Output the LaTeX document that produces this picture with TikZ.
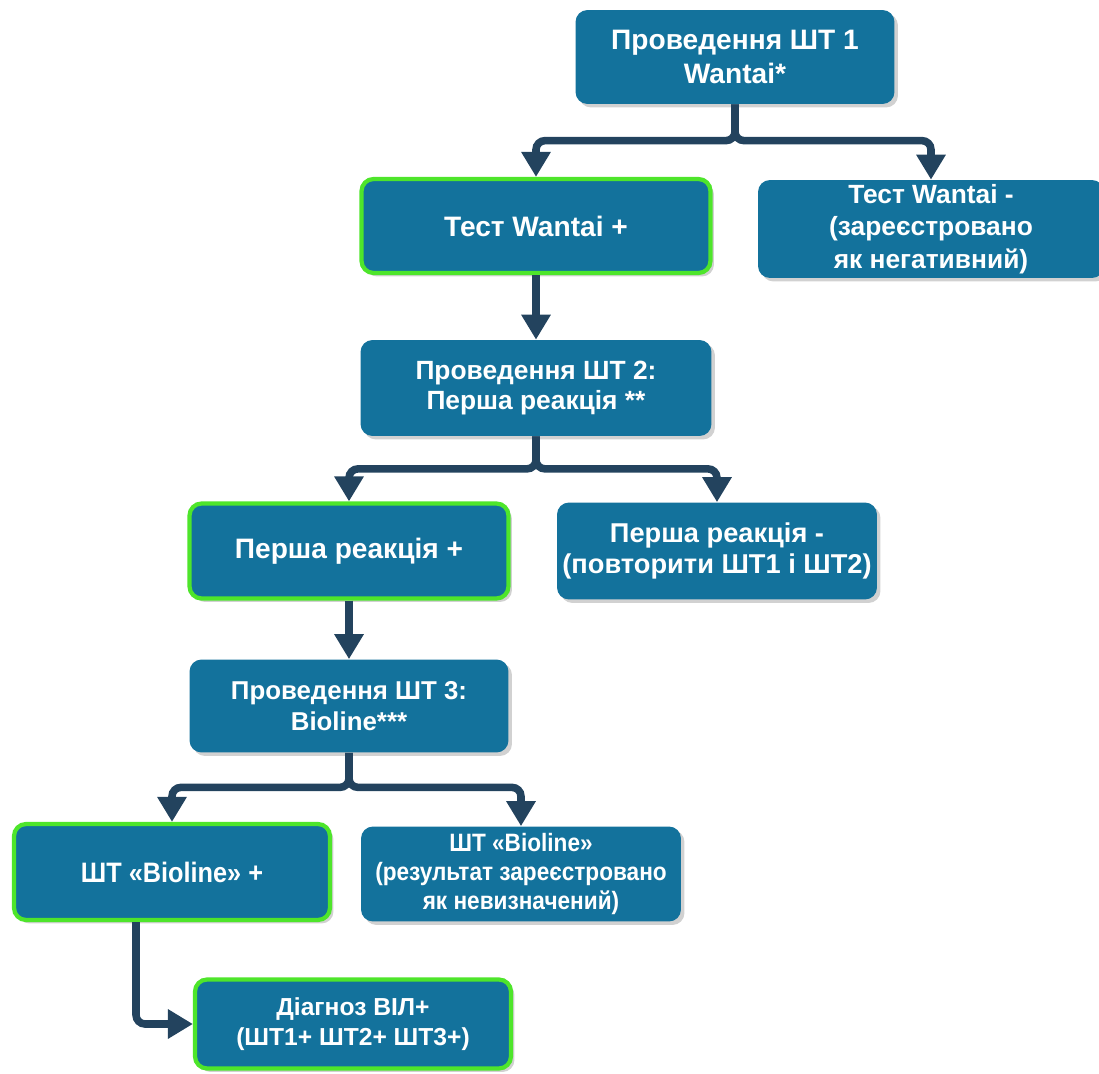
\documentclass[tikz,border=0pt]{standalone}
\usepackage{fontspec}
\setmainfont{Liberation Sans}
\newfontfamily\narrowfont[FakeStretch=0.9]{Liberation Sans}
\usetikzlibrary{arrows.meta,shadows,calc}
\definecolor{BoxFill}{HTML}{13729C}
\definecolor{LinkLine}{HTML}{23435E}
\definecolor{PosEdge}{HTML}{4EE52B}

\begin{document}
\begin{tikzpicture}[x=0.02cm,y=-0.02cm,
    box/.style={rounded corners=0.24cm, fill=BoxFill, text=white, align=center,
      inner sep=2pt, drop shadow={shadow xshift=0.07cm, shadow yshift=-0.07cm,
      opacity=0.45, fill=black!40}},
    posbox/.style={box, draw=PosEdge, line width=2.4pt},
    link/.style={draw=LinkLine, line width=4.3pt, rounded corners=0.18cm,
      -{Triangle[length=0.5cm,width=0.56cm]}}]
  \useasboundingbox (0,0) rectangle (1099,1074);

        \node[box, minimum width=6.38cm, minimum height=1.88cm, font=\fontsize{16}{19}\selectfont\bfseries]
          (t1) at (735,57) {Проведення ШТ 1\\Wantai*};
        \node[posbox, minimum width=6.98cm, minimum height=1.88cm, font=\fontsize{16}{19}\selectfont\bfseries]
          (b2) at (536,226) {Тест Wantai +};
        \node[box, minimum width=6.92cm, minimum height=1.96cm, font=\fontsize{15}{18.5}\selectfont\bfseries]
          (b3) at (931,229) {Тест Wantai -\\(зареєстровано\\як негативний)};
        \node[box, minimum width=7.02cm, minimum height=1.92cm, font=\fontsize{15}{17}\selectfont\bfseries]
          (b4) at (536,388) {Проведення ШТ 2:\\Перша реакція **};
        \node[posbox, minimum width=6.38cm, minimum height=1.9cm, font=\fontsize{16}{19}\selectfont\bfseries]
          (b5) at (349,551) {Перша реакція +};
        \node[box, minimum width=6.4cm, minimum height=1.94cm, font=\fontsize{15.5}{18}\selectfont\bfseries]
          (b6) at (717,551) {Перша реакція -\\(повторити ШТ1 і ШТ2)};
        \node[box, minimum width=6.38cm, minimum height=1.86cm, font=\fontsize{14.7}{17.5}\selectfont\bfseries]
          (b7) at (349,706) {Проведення ШТ 3:\\Bioline***};
        \node[posbox, minimum width=6.32cm, minimum height=1.92cm, font=\narrowfont\fontsize{16}{19}\selectfont\bfseries]
          (b8) at (172,872) {ШТ «Bioline» +};
        \node[box, minimum width=6.4cm, minimum height=1.9cm, font=\narrowfont\fontsize{14.3}{16.5}\selectfont\bfseries]
          (b9) at (521,874) {ШТ «Bioline»\\(результат зареєстровано\\як невизначений)};
        \node[posbox, minimum width=6.32cm, minimum height=1.78cm, font=\fontsize{14}{17}\selectfont\bfseries]
          (b10) at (353,1024) {Діагноз ВІЛ+\\(ШТ1+ ШТ2+ ШТ3+)};

        % split points
        \coordinate (s1) at ($(t1.south)!0.5!(t1.south|-b2.north)$);
        \coordinate (s2) at ($(b4.south)!0.5!(b4.south|-b5.north)$);
        \coordinate (s3) at ($(b7.south)!0.5!(b7.south|-b8.north)$);

        \draw[link] (t1.south) -- (s1) -| (b2.north);
        \draw[link] (t1.south) -- (s1) -| (b3.north);
        \draw[link] (b2.south) -- (b4.north);
        \draw[link] (b4.south) -- (s2) -| (b5.north);
        \draw[link] (b4.south) -- (s2) -| (b6.north);
        \draw[link] (b5.south) -- (b7.north);
        \draw[link] (b7.south) -- (s3) -| (b8.north);
        \draw[link] (b7.south) -- (s3) -| (b9.north);
        \draw[link] ([xshift=-0.72cm]b8.south) |- (b10.west);
      \end{tikzpicture}
\end{document}
